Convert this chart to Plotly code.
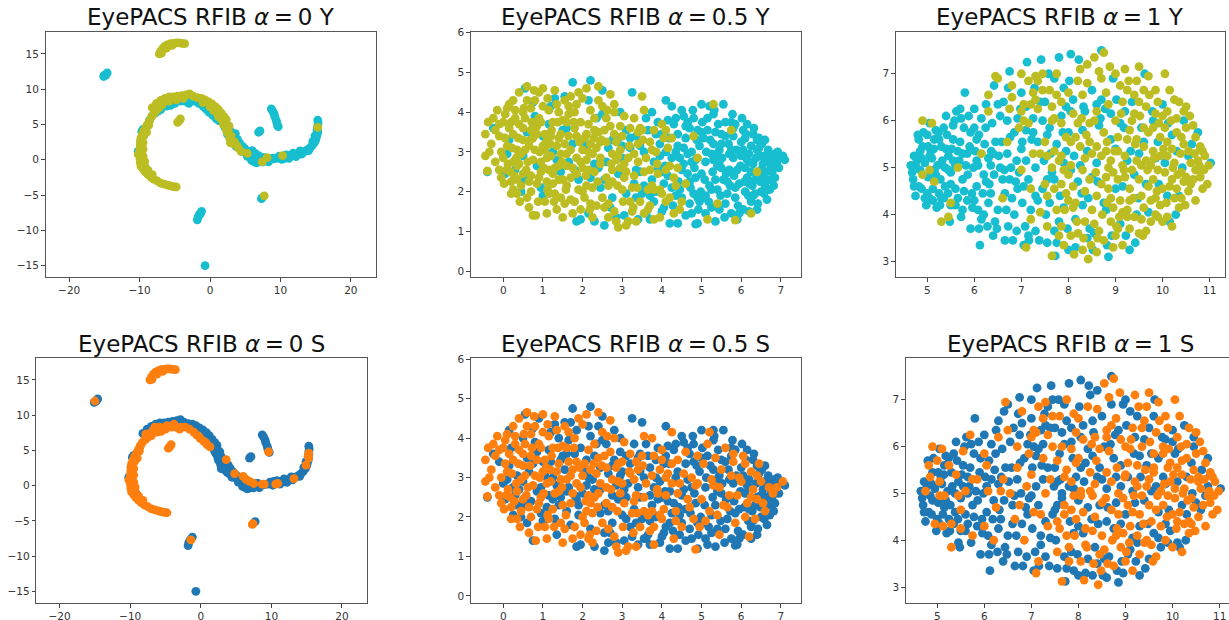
import plotly.graph_objects as go

# Values. Groups are named by class pair:
# a = (Y teal, S blue), b = (Y teal, S orange), c = (Y olive, S blue), d = (Y olive, S orange)
TITLES = ["EyePACS RFIB <i>α</i>\u2009=\u20090 Y", "EyePACS RFIB <i>α</i>\u2009=\u20090.5 Y", "EyePACS RFIB <i>α</i>\u2009=\u20091 Y",
          "EyePACS RFIB <i>α</i>\u2009=\u20090 S", "EyePACS RFIB <i>α</i>\u2009=\u20090.5 S", "EyePACS RFIB <i>α</i>\u2009=\u20091 S"]

# ---- alpha = 0 embedding
a0_a = [(15.3,5.6),(15.35,5.2),(15.3,4.8),(15.3,4.4),(15.25,4.0),(15.2,3.6),(15.1,3.2),(15.0,2.8),(14.8,2.4),(14.5,2.0),(14.2,1.7),(13.8,1.4),
        (13.4,1.2),(13.0,1.0),(12.5,0.85),(12.0,0.7),(11.5,0.6),(11.0,0.45),(10.5,0.35),(10.0,0.25),(9.5,0.2),(9.0,0.15),(8.5,0.05),(8.0,-0.1),
        (7.5,-0.3),(7.0,-0.3),(6.5,-0.15),(6.0,0.2),(5.6,0.5),(5.2,0.9),(4.8,1.3),(4.4,1.7),(4.0,2.1),(3.7,2.6),(3.4,3.1),(3.2,3.6),(2.9,4.1),
        (8.7,7.2),(8.9,6.9),(9.1,6.5),(9.2,6.1),(9.4,5.6),(9.5,5.2),(9.7,4.7),(6.9,3.9),(7.1,4.1),(-1.8,-8.5),(-1.7,-8.1),(-1.5,-7.7),(-1.2,-7.3),
        (-0.7,-15.0),(-15.1,11.8),(-14.8,12.0),(-14.6,12.3),(-9.8,2.7),(-9.7,4.0),(-9.5,4.3),(-10.2,1.2),(-9.1,-1.2),(7.7,0.3),(11.3,0.6),(6.9,-0.1),
        (4.2,2.4),(3.9,2.9),(3.5,3.6),(4.6,1.9),(5.0,1.5),(5.4,1.2),(5.8,0.8),(6.2,0.5),(6.7,0.2),(7.2,0.1),(9.8,0.5),(10.8,0.7),(11.8,0.95),(12.8,1.25),(6.3,-0.3),(5.9,-0.1),
        (3.0,3.0),(2.5,3.6),(1.3,5.9),(0.6,6.5),(2.1,4.6),(14.6,2.6),(14.9,3.4),(14.0,1.3),(13.0,0.8),(12.2,0.45),(11.2,0.2),(10.2,0.05),(8.3,-0.3),(6.6,-0.45),(5.3,0.5),(4.5,1.2),(3.7,1.9)]
a0_b = [(-7.8,6.6),(-7.0,7.1),(-6.5,8.3),(-6.2,7.6),(-5.6,7.7),(-5.0,8.0),(-4.2,8.3),(-3.6,8.3),(-2.8,8.3),(-2.2,8.3),(-1.6,8.0),(-1.0,7.6),(-0.6,7.2),
        (-0.1,6.7),(0.4,6.3),(0.9,5.8),(1.3,5.5),(-15.0,12.0),(7.4,-5.4),(7.3,-5.5),(9.6,4.8),(15.2,4.2),(15.3,3.9),(14.9,2.9),(13.2,1.0),(10.6,0.2),
        (10.9,0.3),(9.0,0.2),(7.5,0.3),(6.0,1.3),(6.4,0.9),(6.9,0.6),(4.8,1.7),(-1.4,-7.7),(3.6,3.7),(-8.6,5.6),(-7.4,6.9),(-3.0,8.0),(-0.3,7.0),(0.7,6.1),(8.7,0.2)]
a0_c = [(-8.2,7.4),(-7.6,8.0),(-7.0,8.4),(-6.4,8.7),(-5.8,8.9),(-5.2,8.9),(-4.6,9.0),(-4.0,9.1),(-3.4,9.2),(-2.9,9.35),(-2.4,9.0),(-1.8,8.8),(-1.2,8.7),
        (-0.7,8.5),(-0.2,8.2),(0.3,7.9),(0.8,7.5),(1.2,7.1),(1.6,6.6),(2.0,6.1),(2.1,5.4),(2.3,4.9),(2.6,4.2),(2.6,3.7),(2.8,3.0),(3.5,2.5),(4.0,1.7),
        (4.4,1.2),(5.3,0.9),(7.4,-0.3),(8.1,0.3),(10.3,0.6),(1.2,6.1),(1.7,5.7),(7.7,-5.1),(0.0,7.5),(0.5,7.0),(1.0,6.6),(1.5,5.9),(2.3,5.7),(-1.0,8.1),(2.4,4.0),(3.1,2.7),(3.8,2.0),(2.7,4.8),
        (3.3,2.3),(3.0,3.4),(2.3,4.4),(1.9,5.0),(2.9,2.4)]
a0_d = [(-4.8,-3.85),(-5.2,-3.8),(-5.6,-3.7),(-6.0,-3.6),(-6.5,-3.45),(-7.0,-3.3),(-7.5,-3.0),(-8.0,-2.75),(-8.4,-2.45),(-8.8,-2.1),(-9.2,-1.7),(-9.5,-1.3),
        (-9.8,-0.9),(-9.9,-0.4),(-9.95,0.1),(-10.0,0.6),(-10.0,1.1),(-9.95,1.6),(-9.9,2.1),(-9.9,2.6),(-9.8,3.1),(-9.6,3.6),(-9.4,4.1),(-9.1,4.6),(-8.9,5.0),
        (-8.6,5.5),(-8.3,6.1),(-8.0,6.5),(-7.6,7.0),(-7.2,7.4),(-9.4,3.4),(-9.0,3.9),(-8.7,4.9),(-7.2,15.0),(-7.0,15.4),(-6.7,15.8),(-6.4,16.1),(-6.0,16.3),
        (-5.6,16.45),(-5.2,16.5),(-4.8,16.55),(-4.4,16.55),(-4.0,16.5),(-3.6,16.45),(-4.6,5.3),(-4.4,5.5),(-4.2,5.8),(15.3,4.6),(-9.3,-0.2),(-10.2,0.8),
        (-9.5,0.5),(-9.5,1.5),(-9.5,2.4),(-9.3,-0.8),(-8.8,-1.5),(-8.2,-2.1),(-6.9,15.1),(-6.2,15.8),(-5.4,16.2),(-3.8,8.7),(-4.8,8.5),(-5.8,8.3),(-6.8,7.8),(-7.8,7.3)]
# ---- alpha = 0.5 embedding
a5_a = [(-0.4,2.5),(-0.25,3.6),(0.05,2.45),(0.1,2.95),(0.15,3.3),(0.3,2.55),(0.45,2.0),(0.5,2.9),(0.55,4.6),(0.6,3.5),(0.75,4.25),(0.8,3.9),(0.85,2.65),(1.0,1.9),(1.15,3.7),
        (1.25,3.0),(1.3,4.35),(1.45,2.5),(1.5,3.55),(1.65,2.75),(1.75,4.75),(1.85,1.25),(1.9,2.3),(2.05,3.15),(2.2,4.8),(2.3,1.25),(2.35,3.85),(2.45,2.1),(2.5,4.55),(2.55,1.15),(2.7,1.6),
        (2.75,3.3),(2.9,2.45),(3.05,1.4),(3.1,3.55),(3.25,4.5),(3.3,2.2),(3.4,1.3),(3.45,3.15),(3.6,3.85),(3.7,1.9),(3.8,2.75),(3.85,3.45),(4.05,1.6),(4.1,4.3),(4.15,2.4),(4.2,1.2),(4.3,3.7),(4.35,3.0),
        (4.45,2.05),(4.4,1.2),(4.5,4.05),(4.55,2.7),(4.6,3.35),(4.7,1.7),(4.75,1.45),(4.8,3.85),(4.85,2.35),(4.9,1.2),(4.95,3.15),(5.0,4.2),(5.05,1.85),(5.1,2.75),(5.15,3.55),(5.25,1.6),(5.3,3.95),
        (5.35,1.25),(5.35,2.3),(5.45,3.05),(5.5,2.6),(5.55,4.2),(5.6,3.4),(5.65,1.95),(5.75,1.45),(5.8,2.85),(5.85,3.7),(5.9,1.3),(5.95,2.2),(6.0,3.25),(6.05,1.55),(6.1,2.6),(6.15,3.7),(6.2,2.95),
        (6.25,1.75),(6.3,3.45),(6.35,2.3),(6.4,1.55),(6.45,3.1),(6.5,2.0),(6.55,2.7),(6.6,3.3),(6.65,1.8),(6.7,2.3),(6.85,2.95),(7.0,2.85),(7.1,2.8),(6.85,2.35),(6.95,2.6),
        (4.5,2.55),(4.55,3.9),(4.6,1.4),(4.65,2.95),(4.7,3.6),(4.72,2.1),(4.78,4.05),(4.82,2.6),(4.88,3.3),(4.92,1.55),(4.98,2.0),(5.02,3.75),(5.08,2.3),(5.12,3.0),(5.18,1.75),(5.22,3.3),(5.28,2.5),(5.32,4.05),
        (5.38,2.95),(5.42,3.7),(5.48,1.9),(5.52,2.85),(5.58,1.35),(5.62,2.45),(5.68,3.2),(5.72,2.15),(5.78,3.95),(5.82,2.4),(5.88,3.05),(5.92,1.65),(5.98,2.65),(6.02,3.85),(6.08,2.25),(6.12,3.45),(6.18,1.9),(6.22,2.75),
        (6.28,2.15),(6.32,3.6),(6.38,2.85),(6.42,1.7),(6.48,2.25),(6.52,3.2),(6.58,1.95),(6.62,2.5),(6.68,3.05),(6.72,2.05),(6.78,2.5),(6.82,2.15),(6.92,3.0),(6.75,2.85),
        (3.45,2.5),(3.6,1.45),(3.65,3.55),(3.75,2.3),(3.9,3.75),(3.95,2.9),(4.0,1.5),(4.08,2.65),(4.18,3.35),(4.28,1.65),(4.35,3.85),(4.42,2.25),(2.55,2.3),(2.65,3.1),(2.75,1.85),(2.95,4.0),(3.1,1.95),(3.2,3.35),
        (1.6,3.6),(1.8,2.55),(1.35,2.8),(1.0,3.4),(0.55,2.3),(2.15,4.3),(2.3,2.7),(1.55,4.4),(0.95,2.1),(2.85,1.35),(3.5,1.95),(1.95,1.3),(2.5,3.95),(1.2,4.15),(3.0,3.15),
        (4.25,2.1),(4.4,3.15),(4.5,1.85),(4.65,3.75),(4.75,2.75),(4.9,1.85),(5.0,3.5),(5.1,1.45),(5.25,2.05),(5.3,3.2),(5.4,2.65),(5.5,3.45),(5.6,1.7),(5.7,2.95),(5.75,3.75),(5.85,2.1),(5.95,1.45),(6.05,3.05),(6.15,2.8),(6.2,2.2),
        (6.3,1.9),(6.4,3.3),(6.5,2.55),(6.6,2.9),(6.75,2.6),(3.35,1.85),(3.55,3.0),(3.7,1.3),(3.85,2.0),(4.0,2.5),(4.15,3.8)]
a5_b = [(2.15,1.45),(2.6,2.75),(3.2,3.1),(3.55,2.15),(3.75,4.0),(3.95,3.2),(4.05,2.2),(4.25,2.85),(4.4,3.45),(4.55,3.1),(4.65,2.45),(4.8,1.95),(4.9,3.55),(5.0,2.45),(5.05,3.35),(5.2,4.15),
        (5.2,2.15),(5.3,2.8),(5.35,3.5),(5.45,1.55),(5.5,3.2),(5.55,2.3),(5.6,3.75),(5.7,2.55),(5.75,3.05),(5.8,3.4),(5.85,1.85),(5.9,2.55),(6.0,2.9),(6.05,3.55),(6.1,2.0),(6.15,2.35),(6.2,1.5),
        (6.25,3.15),(6.3,2.7),(6.35,1.95),(6.4,2.45),(6.45,3.35),(6.5,2.9),(6.6,2.15),(6.7,2.75),(6.8,2.6),(6.9,2.75),(7.05,2.9),(5.1,1.9),(5.4,2.05),(4.75,3.0),(4.85,1.18),(3.0,2.85),(3.35,2.55),
        (3.8,1.75),(3.9,2.6),(4.1,3.0),(4.25,4.15),(4.35,1.9),(4.45,2.85),(4.6,3.65),(4.7,2.25),(4.85,2.8),(4.95,1.75),(5.15,3.85),(5.25,2.95),(5.45,2.75),(5.65,2.25),(5.8,3.6),(5.95,3.0),(6.1,3.35),(6.25,2.5),(6.4,3.05),(6.55,2.35),
        (2.4,2.6),(2.9,3.35),(3.35,3.4),(1.75,3.2),(2.2,2.35),(4.0,3.45)]
a5_c = [(-0.1,3.4),(0.15,4.2),(0.25,2.05),(0.35,2.3),(0.5,4.0),(0.7,2.4),(0.75,1.4),(0.9,4.5),(1.1,2.25),(1.2,3.4),(1.35,1.55),(1.4,4.0),(1.55,3.2),(1.6,2.15),(1.7,1.8),(1.85,4.2),(1.95,3.75),(2.0,2.6),(2.1,3.45),(2.2,1.7),
        (2.25,2.95),(2.4,4.3),(2.45,3.25),(2.6,3.85),(2.65,1.35),(2.8,4.2),(2.85,2.8),(2.95,3.65),(3.0,2.05),(3.15,2.85),(3.2,1.75),(3.3,3.85),(3.4,2.75),(3.5,4.4),(3.65,1.55),(3.7,3.25),(3.9,2.45),(3.95,1.35),(4.1,3.55),(4.2,1.85),
        (4.3,2.35),(4.45,1.55),(4.6,2.2),(4.8,3.4),(5.15,1.3),(5.3,4.2),(5.4,1.7),(5.75,3.55),(5.85,1.28),(6.25,1.45),(6.4,2.5),
        (0.0,2.85),(0.2,3.75),(0.4,2.7),(0.65,3.15),(0.85,3.65),(1.05,3.05),(1.25,2.45),(1.45,3.45),(1.6,2.65),(1.8,3.6),(1.9,2.05),(2.1,2.8),(2.3,3.55),(2.45,2.7),(2.65,2.15),(2.8,3.45),(2.95,3.05),(3.1,2.5),(3.25,1.5),
        (3.45,3.6),(3.55,1.45),(3.7,2.55),(3.85,3.0),(4.05,3.35),(4.2,2.65),(0.35,3.05),(0.95,2.75),(1.3,1.95),(1.7,4.4),(2.2,4.05),(0.6,1.85),(2.75,2.55),
        (0.25,2.75),(0.75,3.35),(1.15,2.55),(1.4,2.3),(1.65,3.95),(1.85,2.45),(2.15,3.0),(2.55,1.6),(3.05,2.7),(3.4,3.5),(3.8,2.05),(4.1,1.75)]
a5_d = [(-0.45,3.45),(-0.45,2.9),(-0.38,3.75),(-0.3,3.2),(-0.4,2.52),(-0.2,3.55),(-0.15,4.05),(-0.1,2.55),(-0.05,3.0),(0.0,3.75),(0.02,2.2),(0.05,3.35),(0.1,4.1),(0.12,2.7),(0.15,3.6),(0.2,1.95),(0.22,3.1),(0.25,4.3),(0.28,2.4),
        (0.3,3.85),(0.33,2.85),(0.38,3.35),(0.4,4.5),(0.42,1.75),(0.45,2.15),(0.5,3.6),(0.52,4.1),(0.55,3.05),(0.58,2.55),(0.6,4.65),(0.65,1.6),(0.68,3.3),(0.7,2.0),(0.72,3.75),(0.75,2.8),(0.8,4.3),(0.82,1.4),(0.85,3.45),(0.9,2.35),
        (0.92,3.0),(0.95,3.75),(1.0,4.6),(1.02,2.6),(1.05,1.75),(1.08,3.25),(1.1,1.45),(1.15,4.05),(1.2,2.9),(1.22,3.55),(1.25,2.2),(1.3,4.55),(1.35,3.15),(1.4,2.65),(1.45,1.85),(1.5,3.8),(1.5,1.35),(1.55,4.3),(1.6,2.95),(1.65,3.4),
        (1.7,2.35),(1.75,1.45),(1.8,4.0),(1.85,2.85),(1.95,1.55),(2.0,4.35),(2.05,3.35),(2.1,2.15),(2.15,3.7),(2.25,1.35),(2.3,2.5),(2.35,3.1),(2.4,4.65),(2.5,1.85),(2.55,3.55),(2.6,2.35),(2.7,4.45),(2.75,2.95),(2.8,1.5),(2.85,3.25),
        (2.9,1.1),(2.95,2.6),(3.05,3.9),(3.15,1.25),(3.3,2.95),(3.45,1.75),(3.5,3.55),(3.55,4.05),(3.75,2.15),(3.8,1.3),(4.0,1.95),(4.0,3.7),(4.15,3.1),(4.3,1.45),(4.4,2.6),(2.0,2.0),(1.15,1.95),(3.3,2.4),(3.6,2.85),(4.9,2.85),
        (-0.35,3.0),(-0.25,3.85),(-0.2,2.75),(-0.1,3.7),(-0.05,2.35),(0.05,3.95),(0.1,3.15),(0.18,2.5),(0.25,3.45),(0.3,4.05),(0.35,2.65),(0.4,3.7),(0.45,2.95),(0.5,2.45),(0.55,3.85),(0.6,4.3),(0.62,2.75),(0.7,3.55),(0.78,4.55),
        (0.8,3.05),(0.85,2.2),(0.9,3.85),(0.95,2.5),(1.0,4.15),(1.05,3.45),(1.1,2.85),(1.12,2.05),(1.18,3.2),(1.25,3.75),(1.3,2.6),(1.35,4.2),(1.4,3.35),(1.45,2.95),(1.5,2.3),(1.55,1.7),(1.6,3.75),(1.65,4.15),(1.7,3.05),(1.75,2.6),
        (1.8,1.75),(1.85,3.4),(1.9,4.5),(1.95,2.75),(2.0,3.05),(2.05,1.85),(2.1,4.6),(2.15,2.55),(2.2,3.2),(2.25,2.1),(2.3,3.85),(2.35,1.65),(2.4,3.5),(2.45,2.85),(2.5,4.15),(2.6,3.25),(2.65,1.7),(2.7,3.65),(2.75,2.25),(2.8,4.0),
        (2.85,1.25),(2.9,2.9),(3.0,3.4),(3.05,2.35),(3.1,1.15),(3.2,3.6),(3.25,2.1),(3.35,1.25),(3.4,3.2),(3.55,2.5),(3.7,1.65),(3.8,3.55),(3.95,2.05),(4.1,2.55),(4.25,3.35),(4.35,2.15),(4.5,1.75),
        (0.08,2.55),(0.2,2.25),(0.35,1.95),(0.5,3.3),(0.65,2.25),(0.7,4.1),(0.88,1.75),(1.0,3.15),(1.12,4.35),(1.28,1.75),(1.38,3.75),(1.48,2.75),(1.58,2.05),(1.78,3.75),(1.92,3.25),(2.08,2.4),(2.18,1.55),(2.28,3.35),(2.38,2.25),(2.48,3.3),
        (2.62,4.05),(2.72,2.7),(2.88,2.15),(3.02,1.75),(3.18,3.15),(3.28,1.6),(3.38,2.1),(3.52,3.3),(3.65,2.05),(3.75,3.05),(3.88,2.7)]
# ---- alpha = 1 embedding
a1_a = [(4.65,5.05),(4.7,4.75),(4.72,5.25),(4.75,4.4),(4.8,5.7),(4.85,4.95),(4.88,4.55),(4.9,5.45),(4.95,5.1),(4.98,4.2),(5.02,4.8),(5.05,5.95),(5.08,5.35),(5.12,4.55),(5.15,5.6),(5.2,4.15),(5.22,5.05),(5.28,4.75),(5.3,5.45),(5.35,4.35),
        (5.35,5.85),(5.4,6.1),(5.45,5.25),(5.48,3.85),(5.5,4.9),(5.55,5.6),(5.6,4.55),(5.62,6.2),(5.68,5.15),(5.72,3.95),(5.75,4.75),(5.78,5.85),(5.8,6.6),(5.85,4.3),(5.9,5.45),(5.92,3.7),(5.98,5.0),(6.0,6.25),(6.05,4.6),(6.1,5.7),
        (6.12,3.35),(6.15,3.9),(6.2,4.85),(6.25,6.35),(6.3,5.2),(6.35,4.45),(6.4,3.55),(6.42,6.75),(6.45,5.55),(6.5,4.1),(6.55,6.1),(6.6,4.75),(6.65,3.45),(6.7,5.3),(6.75,7.05),(6.8,4.35),(6.85,5.75),(6.9,3.65),(6.95,4.9),(7.0,6.6),
        (7.05,3.35),(7.1,5.15),(7.12,7.25),(7.2,4.1),(7.25,6.05),(7.3,3.65),(7.35,5.55),(7.42,7.3),(7.45,4.55),(7.5,6.4),(7.55,3.4),(7.6,5.85),(7.65,4.9),(7.72,3.12),(7.8,7.35),(7.85,6.1),(7.9,4.15),(7.95,5.35),(8.0,3.25),(8.05,7.42),
        (8.1,6.45),(8.2,4.7),(8.3,5.8),(8.4,3.5),(8.5,6.65),(8.6,5.1),(8.7,7.5),(8.75,4.25),(8.85,3.1),(8.9,5.6),(8.95,6.9),(9.1,3.8),(9.2,6.2),(9.3,3.25),(9.4,4.85),(9.55,5.85),(9.7,4.05),(9.85,5.2),(10.0,6.35),(10.15,3.85),(10.3,5.35),(10.45,6.0),(10.75,5.75),(11.02,5.1),
        (4.68,4.9),(4.78,5.15),(4.82,4.6),(4.92,5.75),(5.0,4.45),(5.1,5.2),(5.18,4.85),(5.18,5.8),(5.25,4.45),(5.32,5.15),(5.38,4.6),(5.42,5.7),(5.5,4.2),(5.52,5.4),(5.58,6.0),(5.65,4.35),(5.7,5.55),(5.82,5.05),(5.88,6.1),(5.95,4.45),
        (6.02,5.35),(6.08,4.1),(6.15,6.05),(6.22,5.5),(6.28,3.75),(6.32,4.65),(6.38,5.95),(6.48,3.7),(6.52,5.25),(6.62,6.4),(6.68,4.1),(6.72,6.7),(6.78,5.0),(6.82,3.45),(6.92,4.55),(6.98,6.25),(7.02,5.55),(7.08,3.75),(7.15,4.75),(7.22,5.6),
        (7.28,6.7),(7.38,3.45),(7.48,5.15),(7.52,4.0),(7.58,7.0),(7.62,5.3),(7.7,3.65),(7.82,4.4),(7.88,5.75),(7.98,3.7),(8.02,6.85),(8.12,5.25),(8.22,7.3),(8.32,6.3),(8.42,4.35),(8.52,3.25),(8.62,4.7),(8.78,6.25),(8.92,3.55),(9.02,6.45),
        (9.22,3.55),(9.32,5.35),(9.48,4.35),(9.62,7.0),(9.78,6.2),(9.92,4.65),(10.12,5.95),(10.28,4.0),(10.42,5.0),(10.62,5.5),
        (4.72,4.6),(4.88,5.2),(5.02,5.45),(5.05,4.35),(5.14,5.4),(5.24,5.75),(5.27,4.2),(5.38,5.0),(5.44,4.45),(5.55,5.15),(5.6,4.2),(5.65,5.35),(5.72,6.05),(5.78,4.5),(5.86,4.85),(5.92,5.75),(5.96,4.15),(6.05,5.15),(6.1,3.7),(6.18,4.45),
        (6.24,5.85),(6.3,4.25),(6.36,5.35),(6.42,4.85),(6.44,3.85),(6.58,5.55),(6.64,4.95),(6.72,3.75),(6.76,5.65),(6.88,4.7),(6.92,6.05),(7.02,4.25),(7.1,5.8),(7.16,3.45),(7.3,4.4),(7.4,6.4),(7.55,4.75),(7.7,6.9),(7.75,3.4),(7.9,5.1),
        (8.05,6.2),(8.15,3.3),(8.28,4.45),(8.4,5.35),(8.55,3.6),(8.68,6.05),(8.82,3.35),(9.0,4.55),(9.18,5.85),(9.42,3.4)]
a1_b = [(4.85,5.35),(5.0,5.7),(5.05,5.25),(5.15,4.95),(5.3,4.35),(5.4,5.4),(5.5,4.65),(5.6,5.05),(5.7,6.25),(5.85,5.3),(6.0,4.3),(6.05,5.6),(6.2,4.0),(6.35,5.05),(6.5,6.35),(6.55,5.0),(6.7,6.0),(6.85,4.0),(7.0,5.4),(7.15,3.55),
        (7.3,5.0),(7.45,6.0),(7.6,4.25),(7.75,5.5),(7.9,6.7),(8.05,4.95),(8.15,3.9),(8.35,6.2),(8.5,4.8),(8.65,5.9),(8.8,4.1),(9.0,5.4),(9.15,4.6),(9.35,6.4),(9.5,5.3),(9.65,4.65),(9.9,5.55),(10.1,4.4),(10.35,4.4),(10.55,5.25),
        (4.75,5.05),(4.95,4.35),(5.25,5.6),(5.45,4.95),(5.55,5.9),(5.75,4.1),(6.0,5.85),(6.25,4.7),(6.4,5.3),(6.65,4.45),(6.9,5.15),(7.1,6.3),(7.35,4.3),(7.55,5.7),(7.8,3.85),(7.95,6.3),(8.25,5.05),(8.45,3.7),(8.7,6.45),(9.1,5.95),(9.45,4.0),(9.8,6.0),(10.05,5.1),
        (4.82,5.6),(5.12,4.3),(5.75,5.3),(6.08,5.05),(6.75,4.75),(7.05,4.6),(7.25,5.75),(7.7,4.75),(8.0,5.75),(8.3,4.2),(8.6,6.35),(8.9,6.15),(9.25,5.15),(9.6,5.55),(10.2,5.7)]
a1_c = [(4.9,4.85),(5.15,4.7),(5.45,3.95),(5.65,5.0),(6.15,5.3),(6.3,6.55),(6.5,6.9),(6.6,4.35),(6.8,6.5),(7.0,4.95),(7.2,6.35),(7.35,6.85),(7.5,4.65),(7.65,5.0),(7.75,6.55),(7.85,3.75),(8.0,4.85),(8.15,5.65),(8.25,7.1),(8.35,3.85),
        (8.45,4.75),(8.55,6.0),(8.6,3.2),(8.7,6.9),(8.8,5.35),(8.9,4.35),(9.0,7.0),(9.05,3.7),(9.15,5.05),(9.25,6.65),(9.3,4.3),(9.45,5.6),(9.5,3.6),(9.6,6.65),(9.7,4.6),(9.8,5.35),(9.85,6.15),(9.95,4.2),(10.05,5.85),(10.2,4.75),
        (10.25,6.45),(10.4,5.65),(10.5,4.8),(10.7,4.95),(10.8,5.4),(9.9,3.95),(8.2,3.6),(7.4,4.05),(7.55,5.25),(8.85,6.35),
        (7.05,6.0),(7.25,5.3),(7.45,7.0),(7.7,6.05),(7.9,3.35),(8.05,5.55),(8.3,6.55),(8.45,5.55),(8.6,4.4),(8.75,5.75),(8.95,3.3),(9.1,6.75),(9.25,3.95),(9.4,6.15),(9.55,5.05),(9.7,5.75),(9.85,4.35),(10.0,6.1),(10.1,5.25),(10.3,4.55),
        (10.45,6.2),(10.6,4.65),(10.75,5.15),(8.1,4.15),(8.3,3.25),(8.9,5.15),(9.2,4.8),(7.2,3.9),(7.8,5.15),(9.6,4.15),
        (6.75,6.25),(7.0,7.0),(7.15,5.95),(7.3,6.45),(7.5,5.55),(7.65,6.3),(7.85,6.4),(8.0,4.3),(8.2,5.95),(8.4,7.2),(8.5,5.3),(8.65,3.65),(8.8,4.8),(9.05,5.35),(9.15,4.05),(9.3,5.8),(9.5,6.4),(9.65,5.15),(9.75,3.85),(10.1,3.95)]
a1_d = [(4.9,6.0),(5.1,5.95),(5.05,4.95),(5.5,4.25),(5.3,3.85),(6.3,6.2),(6.45,6.95),(6.7,5.55),(6.8,6.75),(6.95,5.85),(7.1,3.3),(7.2,4.55),(7.3,6.95),(7.4,5.3),(7.55,3.75),(7.65,3.12),(7.7,4.55),(7.75,7.0),(7.85,5.95),(7.9,4.95),
        (7.95,4.45),(8.05,3.55),(8.1,6.15),(8.15,4.25),(8.25,5.45),(8.3,4.95),(8.4,6.8),(8.42,3.05),(8.5,4.1),(8.55,7.35),(8.6,5.45),(8.7,4.65),(8.75,3.45),(8.8,6.6),(8.85,5.0),(8.9,3.85),(8.95,4.15),(9.0,6.0),(9.05,5.65),(9.1,4.3),
        (9.15,3.35),(9.2,7.1),(9.25,5.6),(9.3,4.55),(9.35,6.0),(9.4,3.95),(9.45,5.15),(9.5,7.15),(9.55,4.4),(9.6,5.85),(9.65,3.65),(9.7,6.95),(9.75,5.05),(9.8,4.75),(9.85,4.0),(9.9,6.4),(9.95,5.25),(10.0,4.55),(10.05,7.0),(10.1,5.55),
        (10.15,6.65),(10.2,3.75),(10.25,5.1),(10.3,6.05),(10.35,4.15),(10.4,4.9),(10.45,5.5),(10.5,6.3),(10.55,4.5),(10.6,5.1),(10.65,5.9),(10.7,4.3),(10.75,4.95),(10.8,5.45),(10.85,4.55),(10.9,5.25),(10.95,4.65),(10.98,5.05),(8.35,5.2),(9.4,6.55),
        (7.05,6.35),(7.15,6.85),(7.35,6.25),(7.6,6.65),(7.7,5.35),(7.85,4.65),(7.95,5.65),(8.1,4.6),(8.2,6.85),(8.35,4.5),(8.45,5.95),(8.55,3.8),(8.6,6.2),(8.7,5.25),(8.75,7.45),(8.85,4.55),(9.0,3.55),(9.05,4.75),(9.15,6.4),(9.2,5.25),
        (9.3,3.7),(9.35,4.95),(9.45,6.85),(9.5,4.75),(9.6,5.45),(9.65,6.3),(9.75,4.3),(9.8,5.85),(9.85,6.65),(9.95,5.65),(10.0,3.85),(10.05,4.9),(10.1,6.2),(10.2,5.4),(10.25,4.35),(10.3,5.75),(10.35,6.4),(10.45,4.7),(10.5,5.85),(10.55,5.35),
        (10.65,4.75),(10.7,5.65),(10.8,4.8),(10.85,5.35),(10.4,4.35),(10.15,4.6),(9.9,4.95),(9.55,3.9),(9.25,4.1),(8.95,4.9),
        (7.0,6.2),(7.25,6.6),(7.45,6.65),(7.55,4.4),(7.65,6.0),(7.8,3.55),(7.85,5.25),(8.0,6.6),(8.05,5.05),(8.18,3.85),(8.28,6.05),(8.38,5.7),(8.48,3.35),(8.58,4.9),(8.65,7.05),(8.72,4.0),(8.82,5.55),(8.88,7.15),(8.98,5.35),(9.08,3.95),
        (9.12,6.15),(9.18,4.95),(9.28,6.85),(9.38,4.35),(9.42,5.5),(9.52,6.1),(9.58,3.55),(9.68,4.95),(9.72,6.55),(9.82,5.2),(9.88,4.5),(9.92,5.95),(10.02,5.4),(10.08,4.25),(10.18,6.0),(10.22,5.0),(10.32,4.85),(10.38,5.3),(10.48,4.2),(10.58,6.1),
        (10.68,5.3),(10.78,5.05),(10.88,4.95),(9.02,3.75),(8.82,4.25),(8.62,3.5),(8.32,3.5),(8.12,3.15),(7.92,4.1),(7.75,4.1)]

TEAL, OLIVE, BLUE, ORANGE = "#17becf", "#bcbd22", "#1f77b4", "#ff7f0e"
EMBED = [(a0_a, a0_b, a0_c, a0_d), (a5_a, a5_b, a5_c, a5_d), (a1_a, a1_b, a1_c, a1_d)]

X_RANGES = [(-23.36, 23.5), (-0.82, 7.5), (4.33, 11.32), (-23.3, 23.5), (-0.82, 7.5), (4.33, 11.32)]
Y_RANGES = [(-16.6, 18.1), (-0.15, 6.02), (2.67, 7.89), (-16.65, 18.1), (-0.18, 6.03), (2.66, 7.89)]
X_TICKS = [[-20, -10, 0, 10, 20], list(range(8)), list(range(5, 12))] * 2
Y_TICKS = [[-15, -10, -5, 0, 5, 10, 15], list(range(7)), list(range(3, 8))] * 2
BOXES = [(45.5, 375.5, 32, 277), (470.7, 800.7, 32, 277), (895.7, 1224.7, 32, 277),
         (36.3, 366.7, 358, 603), (470.7, 800.7, 358, 603), (905.7, 1234.7, 358, 603)]
W, H = 1240, 620

def xy(*groups):
    pts = [p for g in groups for p in g]
    return [p[0] for p in pts], [p[1] for p in pts]

fig = go.Figure()
layout = {}
annotations = []
for i in range(6):
    n = "" if i == 0 else str(i + 1)
    a, b, c, d = EMBED[i % 3]
    if i < 3:
        series = [(xy(a, b), TEAL), (xy(c, d), OLIVE)]
    else:
        series = [(xy(a, c), BLUE), (xy(b, d), ORANGE)]
    for (px, py), col in series:
        fig.add_trace(go.Scatter(x=px, y=py, mode="markers", xaxis="x" + n, yaxis="y" + n,
                                 marker=dict(size=8.8, color=col, line=dict(width=0)),
                                 showlegend=False, hoverinfo="skip"))
    L, R, T, B = BOXES[i]
    common = dict(showgrid=False, zeroline=False, showline=True, mirror=True, linecolor="#555555", linewidth=1,
                  ticks="outside", ticklen=3.5, tickwidth=1, tickcolor="#444444", automargin=False,
                  tickfont=dict(family="DejaVu Sans", size=10.5, color="#333333"))
    layout["xaxis" + n] = dict(domain=[L / W, R / W], range=list(X_RANGES[i]), tickvals=X_TICKS[i], anchor="y" + n, **common)
    layout["yaxis" + n] = dict(domain=[1 - B / H, 1 - T / H], range=list(Y_RANGES[i]), tickvals=Y_TICKS[i], anchor="x" + n, **common)
    annotations.append(dict(text=TITLES[i], xref="paper", yref="paper", x=(L + R) / 2 / W, y=1 - (T + 0.5) / H,
                            xanchor="center", yanchor="bottom", showarrow=False,
                            font=dict(family="DejaVu Sans", size=23, color="#111111")))

fig.update_layout(width=W, height=H, margin=dict(l=0, r=0, t=0, b=0, pad=0), autosize=False,
                  paper_bgcolor="white", plot_bgcolor="white", annotations=annotations, showlegend=False, **layout)
fig.write_html("out.html", config={"displayModeBar": False, "responsive": False},
               post_script="document.body.style.margin='0';document.documentElement.style.overflow='hidden';")
